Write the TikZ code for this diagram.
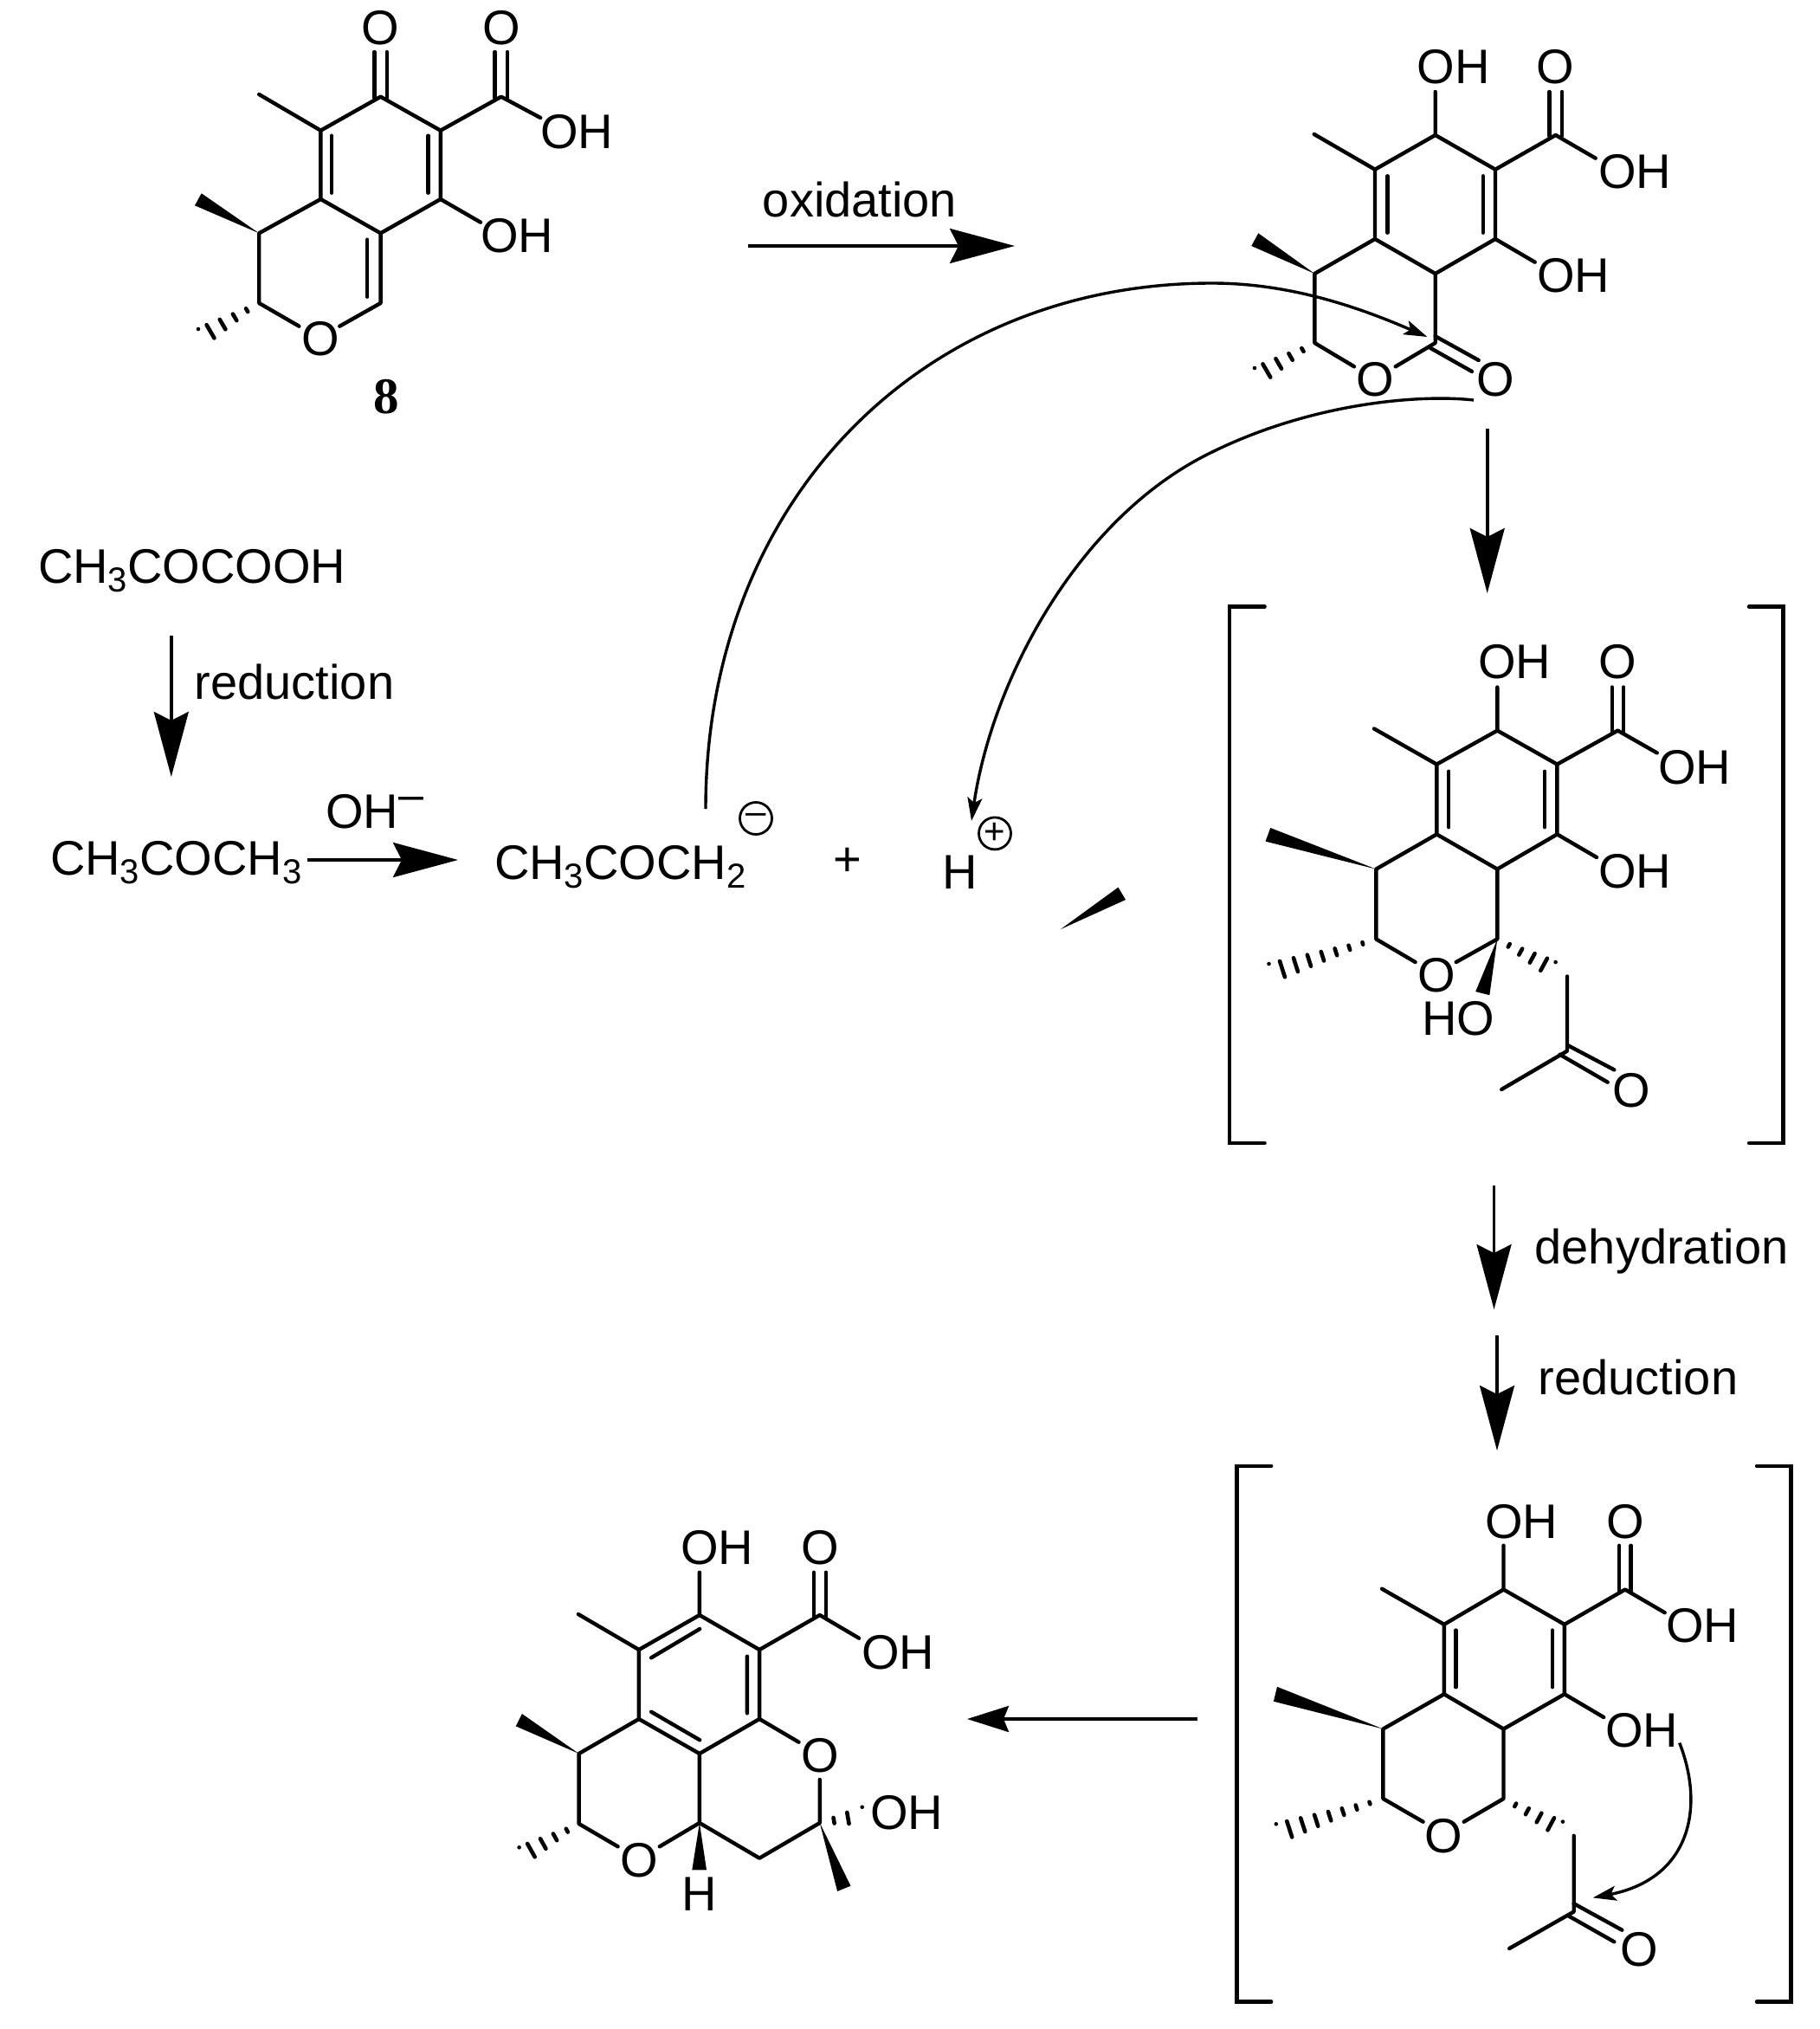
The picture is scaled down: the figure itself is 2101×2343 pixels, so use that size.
\documentclass[tikz,border=0pt]{standalone}
\usepackage{fontspec}
\setmainfont{Liberation Sans}
\newfontfamily\numfont{Liberation Serif}
\usetikzlibrary{arrows.meta,calc}
\newcommand{\msub}[1]{\raisebox{-5pt}{\fontsize{20pt}{20pt}\selectfont #1}}
% hashed bond: from atom #1 to coordinate #2, #3 dashes, end half width #4 (pt)
\newcommand{\hashbond}[4]{%
  \foreach \i in {1,...,#3}{%
    \pgfmathsetmacro{\hfrac}{\i/#3}%
    \pgfmathsetmacro{\hw}{\hfrac*#4}%
    \draw[hash] ($(#1)!\hfrac!(#2)!\hw pt!90:(#2)$) -- ($(#1)!\hfrac!(#2)!\hw pt!-90:(#2)$);%
  }}
\tikzset{
  bond/.style={line width=2.2pt,line cap=round,line join=round},
  hash/.style={line width=2.3pt,line cap=round},
  wedge/.style={fill=black,draw=none},
  atom/.style={inner sep=0pt,outer sep=0pt,font=\fontsize{28pt}{28pt}\selectfont,anchor=center},
  formula/.style={inner sep=0pt,outer sep=0pt,font=\fontsize{28pt}{28pt}\selectfont,anchor=base west},
  charge/.style={circle,draw,line width=1.4pt,minimum size=18.5pt,inner sep=0pt,font=\fontsize{21pt}{21pt}\selectfont},
  bigarrow/.style={line width=1.8pt,-{Stealth[length=37.5pt,width=20pt,inset=5pt]}},
  curved/.style={line width=1.7pt,-{Stealth[length=13.5pt,width=8.5pt,inset=3pt]}},
  bracket/.style={line width=2.2pt,line cap=round,line join=miter},
}
\begin{document}
\begin{tikzpicture}[x=0.5pt,y=-0.5pt]
\useasboundingbox (0,0) rectangle (2101,2343);

%% ---------- Structure 8 ----------
\coordinate (a1) at (439.6,111.7);\coordinate (a2) at (370.4,150.7);\coordinate (a3) at (508.8,150.7);
\coordinate (a4) at (370.4,230);\coordinate (a5) at (508.8,230);\coordinate (a6) at (439.6,269.3);
\coordinate (a7) at (299.2,269.3);\coordinate (a8) at (299.2,350);\coordinate (a9) at (439.6,350);
\coordinate (a10) at (578.8,111.7);
\node[atom] (aO) at (370.4,391.7) {O};
\node[atom] (aOk) at (439.6,32) {O};
\node[atom] (aOc) at (578.8,32) {O};
\node[atom] (aOH1) at (666,152) {OH};
\node[atom] (aOH2) at (597,272) {OH};
\node[inner sep=0pt,font=\numfont\bfseries\fontsize{29.5pt}{30pt}\selectfont] (a8lab) at (446.5,458) {8};
\coordinate (ae1) at (299.2,109);\coordinate (ae2) at (624.2,136);\coordinate (ae3) at (555,256.7);
\coordinate (ae4) at (345.4,376.7);\coordinate (ae5) at (392.3,376.7);
\draw[bond] (a1)--(a2)--(a4)--(a6)--(a5)--(a3)--(a1);
\draw[bond] (a2)--(ae1) (a3)--(a10)--(ae2) (a5)--(ae3);
\draw[bond] (a4)--(a7)--(a8)--(ae4) (a6)--(a9)--(ae5);
\draw[bond] (383,156.7)--(383,222.7) (494.6,156.7)--(494.6,222.7) (424.2,276.7)--(424.2,342.7);
\draw[bond] (432.4,60)--(432.4,113) (446.8,60)--(446.8,113);
\draw[bond] (571.6,60)--(571.6,113) (586,60)--(586,113);
\coordinate (aw1) at (232.7,223.3);\coordinate (aw2) at (225,237.3);
\fill[wedge] (a7)--(aw1)--(aw2)--cycle;
\coordinate (ah) at (229,391);
\hashbond{a8}{ah}{5}{5.5}

%% ---------- Structure 2 ----------
\coordinate (b1) at (1657.7,156);\coordinate (b2) at (1588,195.7);\coordinate (b3) at (1727,195.7);
\coordinate (b4) at (1588,276);\coordinate (b5) at (1727,276);\coordinate (b6) at (1657.7,316);
\coordinate (b7) at (1518.3,316);\coordinate (b8) at (1518.3,396);\coordinate (b9) at (1657.7,396);
\coordinate (b10) at (1796.7,156);
\node[atom] (bO) at (1588.3,438.3) {O};
\node[atom] (bOk) at (1727.7,438.3) {O};
\node[atom] (bOc) at (1796.7,77.7) {O};
\node[atom] (bOH0) at (1678.5,77.7) {OH};
\node[atom] (bOH1) at (1888,198.6) {OH};
\node[atom] (bOH2) at (1817,318) {OH};
\coordinate (be0) at (1657.7,106);\coordinate (be1) at (1517.7,155);\coordinate (be2) at (1842.7,182.7);
\coordinate (be3) at (1772.7,302.7);\coordinate (be4) at (1564,423.3);\coordinate (be5) at (1611.7,423.3);
\draw[bond] (b1)--(b2)--(b4)--(b6)--(b5)--(b3)--(b1);
\draw[bond] (b1)--(be0) (b2)--(be1) (b3)--(b10)--(be2) (b5)--(be3);
\draw[bond] (b4)--(b7)--(b8)--(be4) (b6)--(b9)--(be5);
\draw[bond] (1602.3,203.3)--(1602.3,268.7) (1712.7,203.3)--(1712.7,268.7);
\draw[bond] (1789.4,106)--(1789.4,157) (1804,106)--(1804,157);
\draw[bond] (1657.7,388.3)--(1707.7,416) (1651.7,401.7)--(1700,429);
\coordinate (bw1) at (1453.3,269.3);\coordinate (bw2) at (1445.3,284);
\fill[wedge] (b7)--(bw1)--(bw2)--cycle;
\coordinate (bh) at (1449,436);
\hashbond{b8}{bh}{5}{5.5}

%% ---------- Structure 3 ----------
\coordinate (c1) at (1729.3,843.6);\coordinate (c2) at (1659.3,882.6);\coordinate (c3) at (1798.4,882.6);
\coordinate (c4) at (1659.3,963.4);\coordinate (c5) at (1798.4,963.4);\coordinate (c6) at (1729.3,1003.6);
\coordinate (c7) at (1589.3,1003.6);\coordinate (c8) at (1589.3,1084.4);\coordinate (c9) at (1729.3,1084.4);
\coordinate (c10) at (1868.4,843.6);\coordinate (c11) at (1810,1213.6);
\node[atom] (cO) at (1659.3,1126.7) {O};
\node[atom] (cOc) at (1868.4,764.4) {O};
\node[atom] (cOk) at (1884.5,1258.8) {O};
\node[atom] (cOH0) at (1749,764.4) {OH};
\node[atom] (cOH1) at (1957,885.8) {OH};
\node[atom] (cOH2) at (1888,1006.5) {OH};
\node[atom] (cHO) at (1684,1175.9) {HO};
\coordinate (ce0) at (1729.3,793.5);\coordinate (ce1) at (1587,841.5);\coordinate (ce2) at (1913.7,869.4);
\coordinate (ce3) at (1844,990);\coordinate (ce4) at (1634.6,1111);\coordinate (ce5) at (1681.7,1111);
\coordinate (ce6) at (1810,1127.5);\coordinate (ce7) at (1734.2,1258);
\draw[bond] (c1)--(c2)--(c4)--(c6)--(c5)--(c3)--(c1);
\draw[bond] (c1)--(ce0) (c2)--(ce1) (c3)--(c10)--(ce2) (c5)--(ce3);
\draw[bond] (c4)--(c7)--(c8)--(ce4) (c6)--(c9)--(ce5);
\draw[bond] (ce6)--(c11)--(ce7);
\draw[bond] (1673.2,890.8)--(1673.2,955.2) (1784,890.8)--(1784,955.2);
\draw[bond] (1861.7,793.5)--(1861.7,845) (1875.1,793.5)--(1875.1,845);
\draw[bond] (1810,1206.7)--(1864.3,1235.4) (1801.5,1217.7)--(1856.7,1249.7);
\coordinate (cw1) at (1467.3,956);\coordinate (cw2) at (1461.5,971.6);
\fill[wedge] (c7)--(cw1)--(cw2)--cycle;
\coordinate (cw3) at (1704.2,1145);\coordinate (cw4) at (1720.3,1149.2);
\fill[wedge] (c9)--(cw3)--(cw4)--cycle;
\coordinate (ch1) at (1465.5,1124);\coordinate (ch2) at (1796.6,1121);
\hashbond{c8}{ch1}{8}{5.5}
\hashbond{c9}{ch2}{5}{5}

%% ---------- Structure 4 ----------
\coordinate (d1) at (1736.5,1835.5);\coordinate (d2) at (1667.8,1875.8);\coordinate (d3) at (1806.9,1875.8);
\coordinate (d4) at (1667.8,1956.3);\coordinate (d5) at (1806.9,1956.3);\coordinate (d6) at (1736.5,1996.5);
\coordinate (d7) at (1597.4,1996.5);\coordinate (d8) at (1597.4,2077);\coordinate (d9) at (1736.5,2077);
\coordinate (d10) at (1876.9,1835.5);\coordinate (d11) at (1817.7,2207.5);
\node[atom] (dO) at (1667.4,2119.8) {O};
\node[atom] (dOc) at (1876.9,1757.5) {O};
\node[atom] (dOk) at (1893.5,2250.8) {O};
\node[atom] (dOH0) at (1757,1757.5) {OH};
\node[atom] (dOH1) at (1966,1877) {OH};
\node[atom] (dOH2) at (1896,1997.8) {OH};
\coordinate (de0) at (1736.5,1784.7);\coordinate (de1) at (1596,1834.7);\coordinate (de2) at (1922.7,1862.2);
\coordinate (de3) at (1852.2,1983);\coordinate (de4) at (1643.6,2103.7);\coordinate (de5) at (1690.7,2103.7);
\coordinate (de6) at (1817.7,2119.8);\coordinate (de7) at (1743.2,2250);
\draw[bond] (d1)--(d2)--(d4)--(d6)--(d5)--(d3)--(d1);
\draw[bond] (d1)--(de0) (d2)--(de1) (d3)--(d10)--(de2) (d5)--(de3);
\draw[bond] (d4)--(d7)--(d8)--(de4) (d6)--(d9)--(de5);
\draw[bond] (de6)--(d11)--(de7);
\draw[bond] (1681.3,1882.5)--(1681.3,1948.2) (1793,1882.5)--(1793,1948.2);
\draw[bond] (1870.2,1784.7)--(1870.2,1837) (1883.6,1784.7)--(1883.6,1837);
\draw[bond] (1817.7,2198.2)--(1873.3,2228.7) (1810.5,2211.8)--(1864.3,2242.3);
\coordinate (dw1) at (1475,1947.8);\coordinate (dw2) at (1470.9,1964.7);
\fill[wedge] (d7)--(dw1)--(dw2)--cycle;
\coordinate (dh1) at (1473.8,2117.3);\coordinate (dh2) at (1804.9,2113.6);
\hashbond{d8}{dh1}{8}{5.5}
\hashbond{d9}{dh2}{5}{5}

%% ---------- Structure 5 ----------
\coordinate (e1) at (807.9,1865);\coordinate (e2) at (737.9,1905);\coordinate (e3) at (877.1,1905);
\coordinate (e4) at (737.9,1985);\coordinate (e5) at (877.1,1985);\coordinate (e6) at (807.9,2025);
\coordinate (e7) at (668.6,2025);\coordinate (e8) at (668.6,2106);\coordinate (e9) at (807.9,2105);
\coordinate (e10) at (946.8,1865);\coordinate (e11) at (877.1,2145.7);\coordinate (e12) at (946.8,2105);
\node[atom] (eO) at (738.6,2147.7) {O};
\node[atom] (eOr) at (946.8,2027.3) {O};
\node[atom] (eOc) at (946.8,1786.7) {O};
\node[atom] (eOH0) at (828,1786.7) {OH};
\node[atom] (eOH1) at (1037,1907.7) {OH};
\node[atom] (eOH2) at (1047,2093) {OH};
\node[atom] (eH) at (807.9,2187.7) {H};
\coordinate (ee0) at (807.9,1815.7);\coordinate (ee1) at (667.9,1864);\coordinate (ee2) at (992.1,1891.7);
\coordinate (ee3) at (922.5,2011.7);\coordinate (ee4) at (946.8,2055);\coordinate (ee5) at (713.6,2132.3);
\coordinate (ee6) at (761.8,2132.3);
\draw[bond] (e1)--(e2)--(e4)--(e6)--(e5)--(e3)--(e1);
\draw[bond] (e1)--(ee0) (e2)--(ee1) (e3)--(e10)--(ee2) (e5)--(ee3);
\draw[bond] (e4)--(e7)--(e8)--(ee5) (e6)--(e9)--(ee6);
\draw[bond] (e9)--(e11)--(e12)--(ee4);
\draw[bond] (862.9,1912.7)--(862.9,1978.3) (752.1,1914.3)--(808.2,1881) (752.1,1976.7)--(808.2,2009.3);
\draw[bond] (939.7,1815.7)--(939.7,1867) (953.9,1815.7)--(953.9,1867);
\coordinate (ew1) at (602.9,1979);\coordinate (ew2) at (595.7,1993.3);
\fill[wedge] (e7)--(ew1)--(ew2)--cycle;
\coordinate (ew3) at (799.3,2159.3);\coordinate (ew4) at (816,2159.3);
\fill[wedge] (e9)--(ew3)--(ew4)--cycle;
\coordinate (ew5) at (967.1,2184);\coordinate (ew6) at (982.5,2177.7);
\fill[wedge] (e12)--(ew5)--(ew6)--cycle;
\coordinate (eh1) at (599.6,2144.3);\coordinate (eh2) at (995.7,2096.7);
\hashbond{e8}{eh1}{5}{5.5}
\hashbond{e12}{eh2}{3}{5}

%% ---------- Brackets ----------
\draw[bracket] (1460.6,700.5)--(1419.7,700.5)--(1419.7,1320)--(1460.6,1320);
\draw[bracket] (2020,700.5)--(2059.6,700.5)--(2059.6,1320)--(2020,1320);
\draw[bracket] (1468.2,1692.7)--(1428.3,1692.7)--(1428.3,2311.5)--(1468.2,2311.5);
\draw[bracket] (2029,1692.7)--(2068.6,1692.7)--(2068.6,2311.5)--(2029,2311.5);

%% ---------- Left formulas ----------
\node[formula] (pyr) at (44,673) {CH\msub{3}COCOOH};
\node[formula] (ace) at (58,1010.7) {CH\msub{3}COCH\msub{3}};
\node[formula] (oh) at (376,956.7) {OH\raisebox{10.5pt}{\fontsize{26pt}{26pt}\selectfont –}};
\node[formula] (enol) at (571,1015.7) {CH\msub{3}COCH\msub{2}};
\node[charge] (minus) at (873,945) {–};
\node[atom] (plus) at (979,995) {+};
\node[formula] (hp) at (1088,1026.7) {H};
\node[charge] (pos) at (1149,962.4) {+};
\node[atom] (tox) at (993,230) {oxidation};
\node[atom] (tred) at (340,787) {reduction};
\node[atom] (tdeh) at (1919,1445) {dehydration};
\node[atom] (tred2) at (1892,1590) {reduction};

%% ---------- Straight arrows ----------
\coordinate (r1s) at (864,284);\coordinate (r1e) at (1172,284);
\draw[bigarrow] (r1s)--(r1e);
\coordinate (r2s) at (1717.7,495);\coordinate (r2e) at (1717.7,685);
\draw[bigarrow] (r2s)--(r2e);
\coordinate (r3s) at (1725.5,1369);\coordinate (r3e) at (1725.5,1512);
\draw[bigarrow] (r3s)--(r3e);
\coordinate (r4s) at (1729,1542);\coordinate (r4e) at (1729,1675);
\draw[bigarrow] (r4s)--(r4e);
\coordinate (r5s) at (1383,1985);\coordinate (r5e) at (1117,1985);
\draw[line width=1.8pt,-{Stealth[length=24pt,width=15pt,inset=3pt]}] (r5s)--(r5e);
\coordinate (r6s) at (197.8,734);\coordinate (r6e) at (197.8,897);
\draw[bigarrow] (r6s)--(r6e);
\coordinate (r7s) at (355,993);\coordinate (r7e) at (529,993);
\draw[bigarrow] (r7s)--(r7e);

%% ---------- Curved arrows ----------
\coordinate (k1s) at (815,934);\coordinate (k1m) at (1400,327);\coordinate (k1e) at (1648.3,389);
\draw[curved] (k1s) .. controls (815,582) and (1061,327) .. (k1m) .. controls (1490,327) and (1570,355) .. (k1e);
\coordinate (k2s) at (1702,462);\coordinate (k2m) at (1390,527);\coordinate (k2e) at (1122,948);
\draw[curved] (k2s) .. controls (1640,455) and (1510,465) .. (k2m) .. controls (1240,605) and (1145,790) .. (k2e);
\coordinate (k3s) at (1939.7,2012.6);\coordinate (k3e) at (1839.7,2191.4);
\draw[curved] (k3s) .. controls (1970,2090) and (1950,2170) .. (k3e);

%% ---------- Stray wedge ----------
\coordinate (sw1) at (1225,1073);\coordinate (sw2) at (1291.5,1024.6);\coordinate (sw3) at (1300,1039);
\fill[wedge] (sw1)--(sw2)--(sw3)--cycle;
\end{tikzpicture}
\end{document}
